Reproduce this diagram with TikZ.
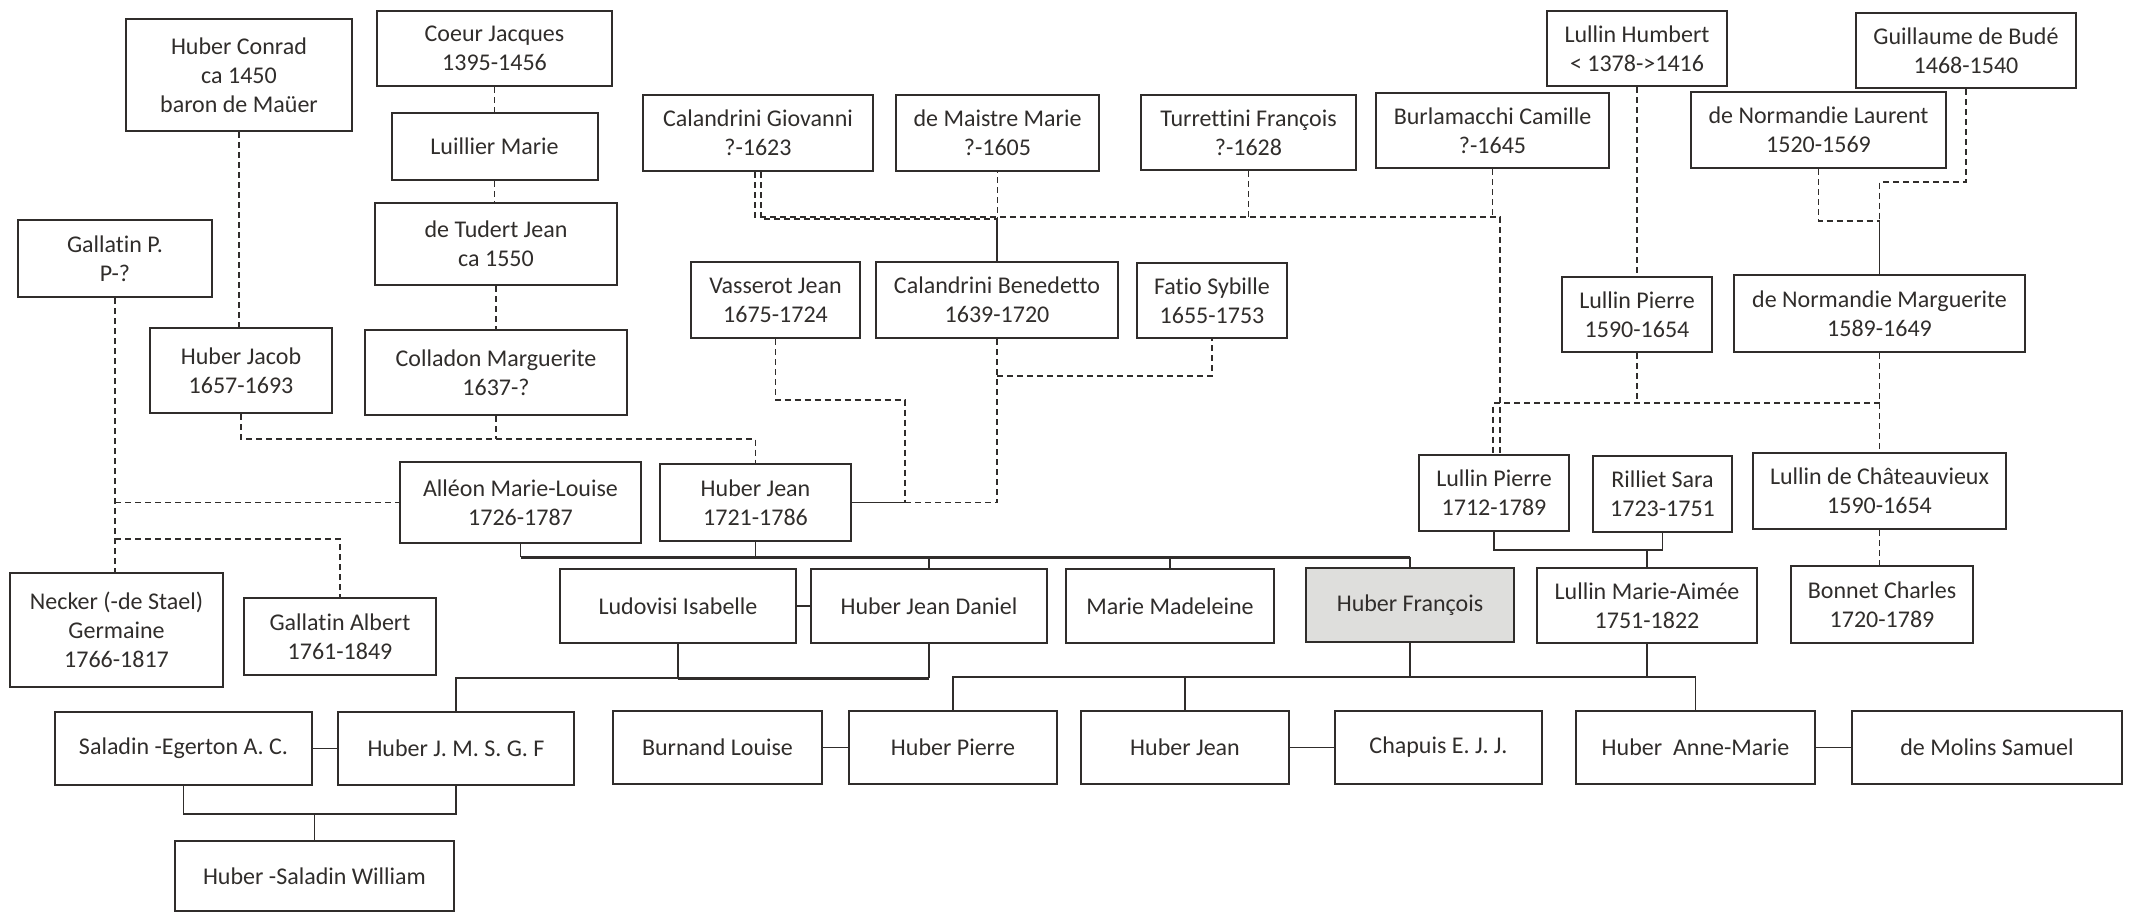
\documentclass[tikz,border=0pt]{standalone}
\usepackage{fontspec}
\setmainfont{Carlito}[Ligatures=NoCommon]
\usepackage{tikz}
\definecolor{fgink}{RGB}{48,45,43}
\definecolor{fgshade}{RGB}{222,222,220}

\begin{document}
\begin{tikzpicture}[x=1pt,y=-1pt,
  person/.style={draw=fgink,line width=2pt,text=fgink,align=center,inner sep=0pt,font=\fontsize{24}{29}\selectfont},
  kin/.style={draw=fgink,line width=1.5pt,dash pattern=on 6pt off 4pt},
  tie/.style={draw=fgink,line width=1.7pt},
  issue/.style={draw=fgink,line width=3pt}]
\useasboundingbox (0,0) rectangle (2132,913);
% Left: Huber and Colladon ancestors
\node[person,minimum width=226pt,minimum height=112pt] (conrad) at (239,75) {Huber Conrad\\ca 1450\\baron de Maüer};
\node[person,minimum width=235pt,minimum height=75pt] (coeur) at (494.5,48.5) {Coeur Jacques\\1395-1456};
\node[person,minimum width=206pt,minimum height=67pt] (luillier) at (494.5,146.5) {Luillier Marie};
\node[person,minimum width=242pt,minimum height=82pt] (tudert) at (496,244) {de Tudert Jean\\ca 1550};
\node[person,minimum width=262pt,minimum height=85pt] (colladon) at (496,372.5) {Colladon Marguerite\\1637-?};
\node[person,minimum width=194pt,minimum height=77pt] (gallatinp) at (115,258.5) {Gallatin P.\\P-?};
\node[person,minimum width=182pt,minimum height=85pt] (jacob) at (241,370.5) {Huber Jacob\\1657-1693};
% Middle: Calandrini side
\node[person,minimum width=230pt,minimum height=76pt] (giovanni) at (758,133) {Calandrini Giovanni\\?-1623};
\node[person,minimum width=203pt,minimum height=76pt] (maistre) at (997.5,133) {de Maistre Marie\\?-1605};
\node[person,minimum width=215pt,minimum height=75pt] (turrettini) at (1248.5,132.5) {Turrettini François\\?-1628};
\node[person,minimum width=233pt,minimum height=75pt] (burlamacchi) at (1492.5,130.5) {Burlamacchi Camille\\?-1645};
\node[person,minimum width=169pt,minimum height=76pt] (vasserot) at (775.5,300) {Vasserot Jean\\1675-1724};
\node[person,minimum width=242pt,minimum height=76pt] (benedetto) at (997,300) {Calandrini Benedetto\\1639-1720};
\node[person,minimum width=150pt,minimum height=75pt] (fatio) at (1212,300.5) {Fatio Sybille\\1655-1753};
% Right: Lullin and de Normandie
\node[person,minimum width=180pt,minimum height=75pt] (humbert) at (1637,48.5) {Lullin Humbert\\< 1378->1416};
\node[person,minimum width=220pt,minimum height=75pt] (bude) at (1966,50.5) {Guillaume de Budé\\1468-1540};
\node[person,minimum width=255pt,minimum height=76pt] (laurent) at (1818.5,130) {de Normandie Laurent\\1520-1569};
\node[person,minimum width=150pt,minimum height=75pt] (pierreA) at (1637,314.5) {Lullin Pierre\\1590-1654};
\node[person,minimum width=291pt,minimum height=77pt] (marguerite) at (1879.5,313.5) {de Normandie Marguerite\\1589-1649};
\node[person,minimum width=150pt,minimum height=76pt] (pierreB) at (1494,493) {Lullin Pierre\\1712-1789};
\node[person,minimum width=139pt,minimum height=76pt] (rilliet) at (1662.5,494) {Rilliet Sara\\1723-1751};
\node[person,minimum width=253pt,minimum height=76pt] (chateau) at (1879.5,491) {Lullin de Châteauvieux\\1590-1654};
% Parents and Gallatin line
\node[person,minimum width=241pt,minimum height=81pt] (alleon) at (520.5,502.5) {Alléon Marie-Louise\\1726-1787};
\node[person,minimum width=191pt,minimum height=77pt] (jean) at (755.5,502.5) {Huber Jean\\1721-1786};
\node[person,minimum width=213pt,minimum height=114pt] (necker) at (116.5,630) {Necker (-de Stael)\\Germaine\\1766-1817};
\node[person,minimum width=192pt,minimum height=77pt] (albert) at (340,636.5) {Gallatin Albert\\1761-1849};
% Children
\node[person,minimum width=236pt,minimum height=74pt] (ludovisi) at (678,606) {Ludovisi Isabelle};
\node[person,minimum width=236pt,minimum height=74pt] (jeandaniel) at (929,606) {Huber Jean Daniel};
\node[person,minimum width=208pt,minimum height=74pt] (madeleine) at (1170,606) {Marie Madeleine};
\node[person,minimum width=208pt,minimum height=74pt,fill=fgshade] (francois) at (1410,605) {Huber François};
\node[person,minimum width=220pt,minimum height=75pt] (marieaimee) at (1647,605.5) {Lullin Marie-Aimée\\1751-1822};
\node[person,minimum width=182pt,minimum height=77pt] (bonnet) at (1882,604.5) {Bonnet Charles\\1720-1789};
% Grandchildren
\node[person,minimum width=257pt,minimum height=73pt] (saladin) at (183.5,748.5) {Saladin -Egerton A. C.};
\node[person,minimum width=236pt,minimum height=73pt] (jmsgf) at (456,748.5) {Huber J. M. S. G. F};
\node[person,minimum width=209pt,minimum height=73pt] (burnand) at (717.5,747.5) {Burnand Louise};
\node[person,minimum width=208pt,minimum height=73pt] (hpierre) at (953,747.5) {Huber Pierre};
\node[person,minimum width=208pt,minimum height=73pt] (hjean) at (1185,747.5) {Huber Jean};
\node[person,minimum width=207pt,minimum height=73pt] (chapuis) at (1438.5,747.5) {Chapuis E. J. J.};
\node[person,minimum width=239pt,minimum height=73pt] (annemarie) at (1695.5,747.5) {Huber\ \ Anne-Marie};
\node[person,minimum width=270pt,minimum height=73pt] (molins) at (1987,747.5) {de Molins Samuel};
\node[person,minimum width=279pt,minimum height=70pt] (william) at (314.5,876) {Huber -Saladin William};
% Dashed lines of descent
\draw[kin] (conrad.south) -- (conrad.south |- jacob.north);
\draw[kin] (coeur.south) -- (luillier.north);
\draw[kin] (luillier.south) -- (luillier.south |- tudert.north);
\draw[kin] (tudert.south) -- (tudert.south |- colladon.north);
\draw[kin] (jacob.south) -- ++(0,25) coordinate (famJ) -| (jean.north);
\draw[kin] (colladon.south) -- (colladon.south |- famJ);
\draw[kin] (gallatinp.south) -- (gallatinp.south |- necker.north);
\draw[kin] (gallatinp.south |- alleon.west) -- (alleon.west);
\draw[kin] (gallatinp.south) ++(0,241) -| (albert.north);
\draw[kin] ([xshift=3pt]giovanni.south) -- ++(0,47) coordinate (calA) -| (maistre.south);
\draw[tie] (benedetto.north |- calA) -- (benedetto.north);
\draw[kin] ([xshift=-3pt]giovanni.south) -- ++(0,45) coordinate (calB) -| ([xshift=6pt]pierreB.north);
\draw[kin] (turrettini.south) -- (turrettini.south |- calB);
\draw[kin] (burlamacchi.south) -- (burlamacchi.south |- calB);
\draw[tie] (jean.east) -- ++(53,0) coordinate (jeanR);
\draw[kin] (vasserot.south) -- ++(0,61) -| (jeanR);
\draw[kin] (jeanR) -| (benedetto.south);
\draw[kin] (benedetto.south) ++(0,37) -| (fatio.south);
\draw[kin] (humbert.south) -- (pierreA.north);
\draw[kin] (laurent.south) -- ++(0,52) -| (marguerite.north);
\draw[kin] (bude.south) -- ++(0,93) -| (marguerite.north);
\draw[kin] (pierreA.south) -- ++(0,50) coordinate (famL);
\draw[kin] (marguerite.south |- famL) -| ([xshift=-1pt]pierreB.north);
\draw[kin] (marguerite.south) -- (chateau.north);
\draw[kin] (chateau.south) -- (chateau.south |- bonnet.north);
% Solid family lines
\draw[tie] (alleon.south) -- ++(0,13) coordinate (famA);
\draw[tie] (jean.south) -- (jean.south |- famA);
\draw[issue] (famA) -- (francois.north |- famA);
\foreach \c in {jeandaniel,madeleine,francois} \draw[tie] (\c.north) -- (\c.north |- famA);
\foreach \a/\b in {ludovisi/jeandaniel,saladin/jmsgf,burnand/hpierre,hjean/chapuis,annemarie/molins} \draw[tie] (\a) -- (\b);
\draw[tie] (ludovisi.south) -- ++(0,34) coordinate (famB) -| (jmsgf.north);
\draw[tie] (jeandaniel.south) -- (jeandaniel.south |- famB);
\draw[issue] (famB) -- (jeandaniel.south |- famB);
\draw[tie] (saladin.south) -- ++(0,28) coordinate (famC) -| (jmsgf.south);
\draw[tie] (william.north) -- (william.north |- famC);
\draw[tie] (pierreB.south) -- ++(0,18) coordinate (famE) -| (rilliet.south);
\draw[tie] (marieaimee.north) -- (marieaimee.north |- famE);
\draw[tie] (francois.south) -- ++(0,34) coordinate (famD);
\draw[tie] (marieaimee.south) -- (marieaimee.south |- famD);
\draw[tie] (hpierre.north) |- (annemarie.north |- famD) -- (annemarie.north);
\draw[tie] (hjean.north) -- (hjean.north |- famD);
\draw[line width=2.2pt,fgink] (hpierre.north |- famD) -- (famD);
\end{tikzpicture}
\end{document}
